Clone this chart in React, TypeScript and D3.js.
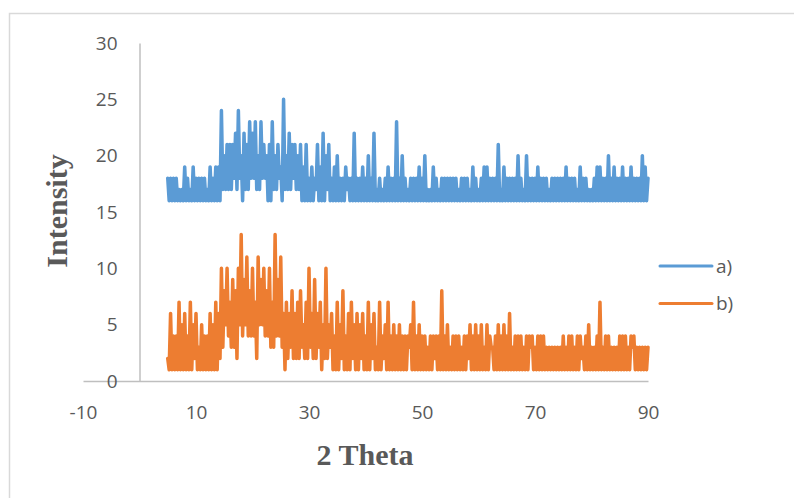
import { useRef, useEffect } from "react";
import * as d3 from "d3";

// 2 Theta sampled evenly from THETA_START to THETA_END
const THETA_START = 5;
const THETA_END = 90;

const seriesA = [
  18,16, 18,16, 18,16, 18,16, 17,16, 17,16, 19,16, 18,16, 17,16, 19,16, 18,16, 18,16, 18,16, 18,16, 17,16, 19,16, 18,16, 19,16, 19,16, 24,17,
  20,17, 21,17, 21,17, 21,18, 22,17, 24,18, 20,16, 22,17, 21,17, 23,18, 22,18, 23,17, 20,17, 23,18, 21,18, 20,16, 21,16, 23,17, 20,17, 21,18,
  19,16, 25,17, 20,17, 22,17, 21,18, 21,17, 20,17, 21,16, 19,16, 21,16, 18,16, 19,16, 18,17, 21,16, 19,16, 22,16, 20,17, 21,16, 18,16, 19,16,
  20,16, 18,16, 18,16, 19,17, 18,16, 18,16, 22,16, 18,16, 18,16, 19,16, 18,16, 20,16, 18,16, 22,16, 17,16, 18,16, 17,16, 18,16, 19,16, 18,16,
  18,16, 23,16, 18,16, 20,16, 18,16, 17,16, 18,16, 18,16, 18,16, 19,16, 18,16, 20,16, 17,16, 17,16, 19,16, 18,16, 17,16, 18,16, 18,16, 18,16,
  18,16, 18,16, 18,16, 17,16, 18,16, 18,16, 18,16, 17,16, 19,16, 18,16, 17,16, 18,16, 19,16, 19,16, 18,16, 18,16, 18,16, 21,16, 17,16, 19,16,
  18,16, 18,16, 18,16, 18,16, 20,16, 18,16, 17,16, 20,16, 18,16, 18,16, 18,16, 19,16, 18,16, 18,16, 18,16, 17,16, 18,16, 18,16, 18,16, 18,16,
  18,16, 19,16, 18,16, 18,16, 18,16, 17,16, 19,16, 18,16, 18,16, 17,16, 17,16, 18,16, 19,16, 19,16, 18,16, 18,16, 20,16, 18,16, 19,16, 18,16,
  18,16, 19,16, 18,16, 18,16, 19,16, 18,16, 18,16, 18,16, 20,16, 19,16, 18,
];

const seriesB = [
  2,1, 6,1, 4,1, 4,1, 7,1, 5,1, 6,1, 4,1, 7,1, 5,2, 6,1, 3,1, 5,1, 4,1, 4,1, 6,1, 5,1, 7,1, 6,2, 10,3,
  8,5, 10,4, 7,3, 9,3, 8,2, 10,5, 13,4, 9,5, 11,4, 8,4, 10,4, 7,2, 11,5, 9,5, 10,4, 8,4, 10,3, 7,3, 13,4, 9,4,
  11,3, 6,1, 7,2, 6,3, 8,2, 6,2, 7,2, 8,3, 5,2, 7,2, 10,3, 6,2, 9,2, 6,3, 7,1, 5,2, 10,2, 5,3, 6,1, 4,1,
  7,1, 5,2, 8,1, 4,1, 6,1, 7,2, 5,1, 6,1, 5,2, 6,1, 4,1, 7,1, 5,2, 6,1, 3,1, 7,1, 4,2, 5,1, 7,1, 4,1,
  5,1, 4,1, 5,1, 4,1, 4,1, 4,3, 5,1, 7,1, 4,1, 5,1, 4,1, 4,1, 3,1, 4,1, 4,2, 4,1, 4,1, 8,1, 4,1, 5,1,
  3,1, 4,1, 4,1, 4,1, 3,1, 4,1, 4,2, 5,1, 4,1, 5,1, 4,1, 5,1, 3,1, 5,1, 4,3, 3,1, 4,1, 5,1, 4,1, 5,1,
  4,1, 6,1, 3,1, 4,1, 4,1, 4,1, 3,1, 4,1, 4,3, 4,1, 3,1, 4,1, 4,1, 4,1, 3,1, 3,1, 3,1, 3,1, 3,1, 3,1,
  4,1, 3,1, 4,1, 4,1, 3,1, 4,1, 4,2, 3,1, 4,1, 5,1, 3,1, 3,1, 4,1, 7,1, 3,1, 4,1, 4,1, 3,1, 3,1, 3,1,
  4,1, 4,1, 4,1, 3,1, 4,3, 4,1, 3,1, 3,1, 3,1, 3,1, 3,
];

const seriesNames = ["a)", "b)"];
const seriesColors = ["#5B9BD5", "#ED7D31"];

const xTicks = [-10, 10, 30, 50, 70, 90];
const yTicks = [0, 5, 10, 15, 20, 25, 30];

const TEXT = "#595959";
const AXIS = "#bfbfbf";

export default function App() {
  const svgRef = useRef<SVGSVGElement>(null);

  useEffect(() => {
    if (!svgRef.current) return;
    const svg = d3.select(svgRef.current);
    svg.selectAll("*").remove();

    const x = d3.scaleLinear().domain([-10, 90]).range([83, 648]);
    const y = d3.scaleLinear().domain([0, 30]).range([381, 43]);

    // chart border
    svg.append("rect")
      .attr("x", 9.5).attr("y", 13.5)
      .attr("width", 800).attr("height", 500)
      .attr("fill", "#fff")
      .attr("stroke", "#d9d9d9")
      .attr("stroke-width", 1.5);

    // axes
    const gx = svg.append("g")
      .attr("transform", `translate(0,${y(0)})`)
      .call(
        d3.axisBottom(x).tickValues(xTicks).tickFormat((d) => String(d))
          .tickSize(0).tickSizeOuter(0).tickPadding(25)
      );
    const gy = svg.append("g")
      .attr("transform", `translate(${x(0)},0)`)
      .call(
        d3.axisLeft(y).tickValues(yTicks).tickFormat((d) => String(d))
          .tickSize(0).tickSizeOuter(0).tickPadding(22)
      );

    [gx, gy].forEach((g) => {
      g.select(".domain").attr("stroke", AXIS).attr("stroke-width", 1.5);
      g.selectAll("text")
        .attr("fill", TEXT)
        .style("font-family", "'Open Sans', sans-serif")
        .style("font-size", "19px");
    });

    // series
    const line = d3.line<number>()
      .x((_, i, arr) => x(THETA_START + (i * (THETA_END - THETA_START)) / (arr.length - 1)))
      .y((d) => y(d));

    [seriesA, seriesB].forEach((s, k) => {
      svg.append("path")
        .attr("d", line(s) as string)
        .attr("fill", "none")
        .attr("stroke", seriesColors[k])
        .attr("stroke-width", 3.5)
        .attr("stroke-linejoin", "round")
        .attr("stroke-linecap", "round");
    });

    // axis titles
    svg.append("text")
      .attr("x", 365).attr("y", 465)
      .attr("text-anchor", "middle")
      .attr("fill", TEXT)
      .style("font-family", "'Liberation Serif', 'Times New Roman', serif")
      .style("font-weight", "bold")
      .style("font-size", "30px")
      .text("2 Theta");

    svg.append("text")
      .attr("transform", "translate(67,211) rotate(-90)")
      .attr("text-anchor", "middle")
      .attr("fill", TEXT)
      .style("font-family", "'Liberation Serif', 'Times New Roman', serif")
      .style("font-weight", "bold")
      .style("font-size", "30px")
      .text("Intensity");

    // legend
    const legend = svg.append("g");
    seriesNames.forEach((name, k) => {
      const ly = 266 + k * 37.5;
      legend.append("line")
        .attr("x1", 660).attr("x2", 712)
        .attr("y1", ly).attr("y2", ly)
        .attr("stroke", seriesColors[k])
        .attr("stroke-width", 3)
        .attr("stroke-linecap", "round");
      legend.append("text")
        .attr("x", 716).attr("y", ly)
        .attr("dy", "0.35em")
        .attr("fill", TEXT)
        .style("font-family", "'Open Sans', sans-serif")
        .style("font-size", "19px")
        .text(name);
    });
  }, []);

  return (
    <svg
      ref={svgRef}
      width={794}
      height={498}
      style={{ position: "absolute", left: 0, top: 0, background: "#fff" }}
    />
  );
}
